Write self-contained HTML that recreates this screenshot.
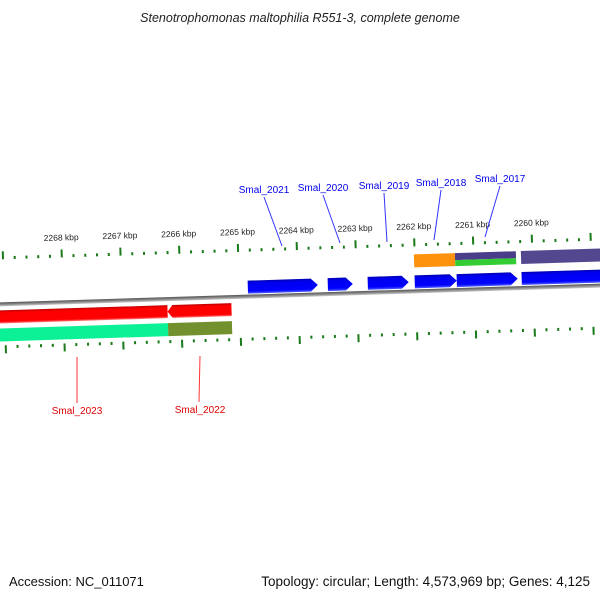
<!DOCTYPE html>
<html><head><meta charset="utf-8"><style>
body{margin:0;background:#fff;}
svg{display:block;font-family:"Liberation Sans",sans-serif;}
</style></head><body>
<svg id="c" width="600" height="600" viewBox="0 0 600 600">
<defs>
<linearGradient id="gb" x1="0" y1="0" x2="0" y2="1"><stop offset="0" stop-color="#0000b0"/><stop offset="0.2" stop-color="#0000ee"/><stop offset="0.8" stop-color="#0000ff"/><stop offset="1" stop-color="#5060ff"/></linearGradient>
<linearGradient id="gr" x1="0" y1="0" x2="0" y2="1"><stop offset="0" stop-color="#c00000"/><stop offset="0.2" stop-color="#ff0000"/><stop offset="0.85" stop-color="#ff0000"/><stop offset="1" stop-color="#ff8080"/></linearGradient>
<linearGradient id="gbb" x1="0" y1="0" x2="0" y2="1"><stop offset="0" stop-color="#555"/><stop offset="0.5" stop-color="#888"/><stop offset="1" stop-color="#ccc"/></linearGradient>
</defs>
<text x="300" y="22" text-anchor="middle" font-size="12.5" font-style="italic" fill="#222">Stenotrophomonas maltophilia R551-3, complete genome</text>
<g id="rot" transform="rotate(-1.8 300 292)">
<rect x="-40" y="293" width="700" height="4" fill="url(#gbb)"/>
</g>
<g id="lbl"></g>
<text x="9" y="586" font-size="13" fill="#111">Accession: NC_011071</text>
<text x="590" y="586" text-anchor="end" font-size="13.5" fill="#111">Topology: circular; Length: 4,573,969 bp; Genes: 4,125</text>
</svg>
<script>
const tickKbp=[2260,2261,2262,2263,2264,2265,2266,2267,2268];
const tickLabels=["2260 kbp","2261 kbp","2262 kbp","2263 kbp","2264 kbp","2265 kbp","2266 kbp","2267 kbp","2268 kbp"];
const geneNames=["Smal_2021","Smal_2020","Smal_2019","Smal_2018","Smal_2017","Smal_2016"];
const geneStart=[2264.854,2263.493,2262.813,2262.014,2261.299,2260.194];
const geneEnd=[2263.663,2263.068,2262.116,2261.299,2260.262,2258.5];
const revNames=["Smal_2023","Smal_2022"];
const revStart=[2269.2,2266.231];
const revEnd=[2266.231,2265.143];
const cogStart=[2262.014,2261.316,2260.194,2269.2,2266.231];
const cogEnd=[2261.316,2260.279,2258.5,2266.231,2265.143];
const cogColor=["#ff8c00","#4a3d8a","#4a3d8a","#00f090","#6b8a23"];
const NS='http://www.w3.org/2000/svg';
const X=k=>63+(2268-k)*58.8;
const g=document.getElementById('rot'), L=document.getElementById('lbl');
function el(t,a,p){const e=document.createElementNS(NS,t);for(const k in a)e.setAttribute(k,a[k]);(p||g).appendChild(e);return e;}
for(let k=2258.6;k<=2269.2;k+=0.2){const kk=Math.round(k*10)/10;const major=Math.abs(kk-Math.round(kk))<0.01;const x=X(kk);
 const t1=el('rect',{x:x-1,y:major?242:247,width:2,height:major?8:3,fill:'#1a7a1a'});
 
 
 const t2=el('rect',{x:x-1,y:336,width:2,height:major?8:3,fill:'#1a7a1a'});
 
 }
tickKbp.forEach((k,i)=>{const t=el('text',{x:X(k),y:233,'text-anchor':'middle','font-size':'8.5',fill:'#222'});t.textContent=tickLabels[i];
 
 });
cogStart.forEach((s,i)=>{const x1=X(s),x2=X(cogEnd[i]);const y=i<3?258:319;
 if(i==1){el('rect',{x:x1,y:y,width:x2-x1,height:7,fill:'#4a3d8a'});const r=el('rect',{x:x1,y:y+7,width:x2-x1,height:6,fill:'#33cc33'});return;}
 const r=el('rect',{x:x1,y:y,width:x2-x1,height:13,fill:cogColor[i],opacity:0.95});
 
 });
geneStart.forEach((s,i)=>{const x1=X(s),x2=X(geneEnd[i]);const y=279,h=13,tp=Math.min(7,(x2-x1)/3);
 const p=el('polygon',{points:`${x1},${y} ${x2-tp},${y} ${x2},${y+h/2} ${x2-tp},${y+h} ${x1},${y+h}`,fill:'url(#gb)'});
 
 });
revStart.forEach((s,i)=>{const x1=X(s),x2=X(revEnd[i]);const y=301,h=13,tp=5;
 const p=el('polygon',{points:`${x1+tp},${y} ${x2},${y} ${x2},${y+h} ${x1+tp},${y+h} ${x1},${y+h/2}`,fill:'url(#gr)'});
 
 });
const fl=[[264,193,282,246],[323,191,340,243],[384,189,387,242],[441,186,434,240],[500,182,485,237]];
fl.forEach((a,i)=>{const t=el('text',{x:a[0],y:a[1],'text-anchor':'middle','font-size':'10',fill:'#0000ee'},L);t.textContent=geneNames[i];
 
 
 el('line',{x1:a[0],y1:a[1]+4,x2:a[2],y2:a[3],stroke:'#3333ff','stroke-width':1},L);});
const rl=[[77,414,77,357],[200,413,199,356]];
rl.forEach((a,i)=>{const t=el('text',{x:a[0],y:a[1],'text-anchor':'middle','font-size':'10',fill:'#dd0000'},L);t.textContent=revNames[i];
 
 
 el('line',{x1:a[0],y1:a[3],x2:a[2],y2:a[1]-11,stroke:'#ff3333','stroke-width':1},L);});
</script>
</body></html>
